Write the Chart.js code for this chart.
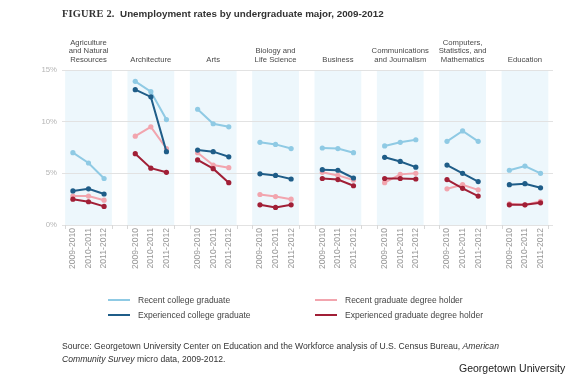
<!DOCTYPE html>
<html>
<head>
<meta charset="utf-8">
<script src="https://cdn.jsdelivr.net/npm/chart.js@4.4.1/dist/chart.umd.min.js"></script>
<style>
  html, body { margin: 0; padding: 0; background: #fff; }
  #wrap { position: relative; width: 570px; height: 376px; overflow: hidden; font-family: "Liberation Sans", Arial, sans-serif; }
  #c { position: absolute; left: 0; top: 0; }
  .title { position: absolute; left: 62px; top: 8px; font-size: 9.8px; font-weight: bold; color: #333; white-space: nowrap; }
  .title .fig { font-family: "Liberation Serif", serif; font-size: 10.4px; letter-spacing: 0.2px; }
  .leg { position: absolute; font-size: 8.5px; color: #444; white-space: nowrap; line-height: 10px; }
  .leg i { position: absolute; left: -30px; top: 4px; width: 22px; height: 2px; }
  .src { position: absolute; left: 62px; top: 340px; font-size: 8.6px; color: #333; line-height: 12.6px; white-space: nowrap; }
  .gu { position: absolute; left: 459px; top: 362px; font-size: 10.5px; color: #222; white-space: nowrap; }
</style>
</head>
<body>
<div id="wrap">
  <canvas id="c" width="570" height="376"></canvas>
  <div class="title"><span class="fig">FIGURE 2.</span>&nbsp; Unemployment rates by undergraduate major, 2009-2012</div>
  <div class="leg" style="left:138px;top:295px"><i style="background:#8fcae4"></i>Recent college graduate</div>
  <div class="leg" style="left:138px;top:310px"><i style="background:#1f5d88"></i>Experienced college graduate</div>
  <div class="leg" style="left:345px;top:295px"><i style="background:#f2a5ae"></i>Recent graduate degree holder</div>
  <div class="leg" style="left:345px;top:310px"><i style="background:#a11f36"></i>Experienced graduate degree holder</div>
  <div class="src">Source: Georgetown University Center on Education and the Workforce analysis of U.S. Census Bureau, <i>American</i><br><i>Community Survey</i> micro data, 2009-2012.</div>
  <div class="gu">Georgetown University</div>
</div>
<script>
// ---- data ----
const majors = [
  "Agriculture\nand Natural\nResources",
  "Architecture",
  "Arts",
  "Biology and\nLife Science",
  "Business",
  "Communications\nand Journalism",
  "Computers,\nStatistics, and\nMathematics",
  "Education"
];
const periods = ["2009-2010", "2010-2011", "2011-2012"];
const yTicks = [0, 5, 10, 15];

const recentCollege = [
  [7.0, 6.0, 4.5], [13.9, 12.9, 10.2], [11.2, 9.8, 9.5], [8.0, 7.8, 7.4],
  [7.45, 7.4, 7.0], [7.65, 8.0, 8.25], [8.1, 9.1, 8.1], [5.3, 5.7, 5.0]
];
const experiencedCollege = [
  [3.3, 3.5, 3.0], [13.1, 12.4, 7.1], [7.25, 7.1, 6.6], [4.95, 4.8, 4.45],
  [5.35, 5.3, 4.55], [6.55, 6.15, 5.6], [5.8, 5.0, 4.2], [3.9, 4.0, 3.6]
];
const recentGrad = [
  [2.8, 2.8, 2.4], [8.6, 9.5, 7.4], [7.0, 5.8, 5.55], [2.95, 2.75, 2.5],
  [5.1, 4.8, 4.35], [4.1, 4.9, 5.0], [3.5, 3.9, 3.4], [2.05, 1.95, 2.3]
];
const experiencedGrad = [
  [2.5, 2.25, 1.8], [6.9, 5.5, 5.1], [6.3, 5.45, 4.1], [1.95, 1.7, 1.95],
  [4.5, 4.4, 3.8], [4.5, 4.5, 4.45], [4.4, 3.55, 2.8], [1.95, 1.95, 2.15]
];

// ---- build ----
const GROUP = 4; // 3 periods + 1 gap
function toPoints(series) {
  const pts = [];
  series.forEach((vals, g) => {
    vals.forEach((v, i) => pts.push({ x: g * GROUP + i, y: v }));
    pts.push({ x: g * GROUP + 3, y: null });
  });
  return pts;
}
const tickPositions = [];
majors.forEach((m, g) => periods.forEach((p, i) => tickPositions.push(g * GROUP + i)));

function ds(label, series, color, order) {
  return {
    label, data: toPoints(series), borderColor: color, backgroundColor: color,
    borderWidth: 2, pointRadius: 2.6, pointHoverRadius: 2.6, pointBorderWidth: 0,
    spanGaps: false, order, tension: 0
  };
}

const bandPlugin = {
  id: 'bands',
  beforeDraw(chart) {
    const { ctx, chartArea, scales: { x } } = chart;
    ctx.save();
    ctx.fillStyle = '#edf7fc';
    majors.forEach((m, g) => {
      const x1 = x.getPixelForValue(g * GROUP - 0.5);
      const x2 = x.getPixelForValue(g * GROUP + 2.5);
      ctx.fillRect(x1, chartArea.top, x2 - x1, chartArea.bottom - chartArea.top);
    });
    ctx.restore();
  },
  afterDraw(chart) {
    const { ctx, chartArea, scales: { x } } = chart;
    ctx.save();
    ctx.strokeStyle = '#d8d8d8';
    ctx.lineWidth = 1;
    majors.forEach((m, g) => {
      [g * GROUP - 0.5, g * GROUP + 2.5].forEach(v => {
        const px = Math.round(x.getPixelForValue(v)) + 0.5;
        ctx.beginPath();
        ctx.moveTo(px, chartArea.bottom);
        ctx.lineTo(px, chartArea.bottom + 4);
        ctx.stroke();
      });
    });
    ctx.fillStyle = '#4a4a4a';
    ctx.font = '7.7px "Liberation Sans", Arial, sans-serif';
    ctx.textAlign = 'center';
    ctx.textBaseline = 'middle';
    majors.forEach((m, g) => {
      const lines = m.split('\n');
      const cx = x.getPixelForValue(g * GROUP + 1);
      lines.forEach((ln, j) => {
        const y = 59.5 - (lines.length - 1 - j) * 8.3;
        ctx.fillText(ln, cx, y);
      });
    });
    ctx.restore();
  }
};

Chart.defaults.font.family = '"Liberation Sans", Arial, sans-serif';

new Chart(document.getElementById('c'), {
  type: 'line',
  data: {
    datasets: [
      ds('Recent college graduate', recentCollege, '#8fcae4', 3),
      ds('Experienced college graduate', experiencedCollege, '#1f5d88', 1),
      ds('Recent graduate degree holder', recentGrad, '#f2a5ae', 2),
      ds('Experienced graduate degree holder', experiencedGrad, '#a11f36', 0)
    ]
  },
  options: {
    responsive: false,
    animation: false,
    layout: { padding: { left: 20, right: 17, top: 70, bottom: 101 } },
    plugins: { legend: { display: false }, tooltip: { enabled: false } },
    scales: {
      x: {
        type: 'linear',
        min: -0.7,
        max: 30.8,
        afterFit(scale) { scale.height = 50; },
        afterBuildTicks(scale) { scale.ticks = tickPositions.map(v => ({ value: v })); },
        grid: { display: false, drawTicks: false },
        border: { display: false },
        ticks: {
          autoSkip: false, minRotation: 90, maxRotation: 90, padding: 3,
          color: '#999', font: { size: 8.6 },
          callback(v) { return periods[Math.round(v) % GROUP] || ''; }
        }
      },
      y: {
        min: 0, max: 15,
        afterFit(scale) { scale.width = 42; },
        afterBuildTicks(scale) { scale.ticks = yTicks.map(v => ({ value: v })); },
        grid: { color: '#e2e2e2', lineWidth: 1, drawTicks: false },
        border: { display: false },
        ticks: { padding: 5, color: '#b5b5b5', font: { size: 7.8 }, callback(v) { return v + '%'; } }
      }
    }
  },
  plugins: [bandPlugin]
});
</script>
</body>
</html>
